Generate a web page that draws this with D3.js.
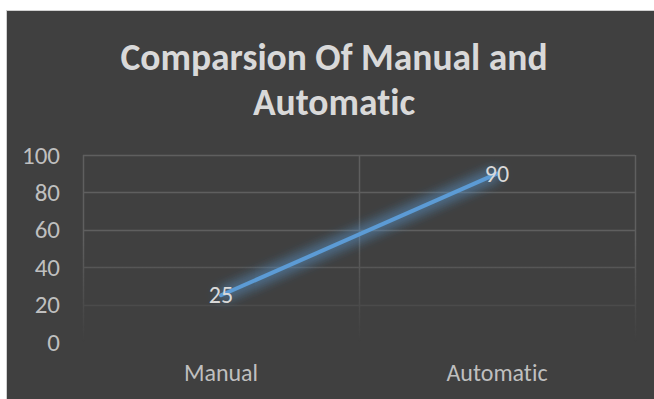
<!DOCTYPE html>
<html>
<head>
<meta charset="utf-8">
<script src="https://cdn.jsdelivr.net/npm/d3@7"></script>
<style>
  body { margin: 0; background: #fff; }
  svg text { font-family: Carlito, "Open Sans", "Liberation Sans", sans-serif; font-variant-ligatures: none; }
</style>
</head>
<body>
<div id="chart"></div>
<script>
// chart data
var categories = ["Manual", "Automatic"];
var values = [25, 90];
var yTicks = [0, 20, 40, 60, 80, 100];
var titleLines = ["Comparsion Of Manual and", "Automatic"];

var width = 654, height = 399;
var margin = {top: 155, right: 19, bottom: 57, left: 83};
var w = width - margin.left - margin.right;
var h = height - margin.top - margin.bottom;

var svg = d3.select("#chart").append("svg")
    .attr("width", width)
    .attr("height", height);

var defs = svg.append("defs");

// soft glow round the line
var glow = defs.append("filter").attr("id", "glow")
    .attr("x", "-20%").attr("y", "-50%").attr("width", "140%").attr("height", "200%");
glow.append("feGaussianBlur").attr("in", "SourceGraphic").attr("stdDeviation", 7).attr("result", "blur");
var merge = glow.append("feMerge");
merge.append("feMergeNode").attr("in", "blur");
merge.append("feMergeNode").attr("in", "blur");
merge.append("feMergeNode").attr("in", "SourceGraphic");

// grid fades out towards the bottom
var grad = defs.append("linearGradient").attr("id", "fade")
    .attr("gradientUnits", "userSpaceOnUse")
    .attr("x1", 0).attr("x2", 0).attr("y1", 0).attr("y2", h);
grad.append("stop").attr("offset", "0.45").attr("stop-color", "#fff").attr("stop-opacity", 1);
grad.append("stop").attr("offset", "1").attr("stop-color", "#fff").attr("stop-opacity", 0);
defs.append("mask").attr("id", "gridMask")
    .attr("maskUnits", "userSpaceOnUse")
    .attr("x", -10).attr("y", -10).attr("width", w + 20).attr("height", h + 20)
  .append("rect")
    .attr("x", -10).attr("y", -10).attr("width", w + 20).attr("height", h + 20)
    .attr("fill", "url(#fade)");

// dark panel
svg.append("rect")
    .attr("x", 6.5).attr("y", 10.5)
    .attr("width", width - 6).attr("height", height - 10)
    .attr("fill", "#404040")
    .attr("stroke", "#d0d0d0");

// title
svg.append("g")
    .selectAll("text")
    .data(titleLines)
    .enter().append("text")
    .attr("x", 334)
    .attr("y", function(d, i) { return 70 + i * 45; })
    .attr("text-anchor", "middle")
    .attr("font-size", 37.5)
    .attr("font-weight", "bold")
    .attr("fill", "#d9d9d9")
    .text(function(d) { return d; });

var g = svg.append("g")
    .attr("transform", "translate(" + margin.left + "," + margin.top + ")");

var x = d3.scaleBand().domain(categories).range([0, w]);
var y = d3.scaleLinear().domain([0, 100]).range([h, 0]);

// gridlines
var grid = g.append("g").attr("mask", "url(#gridMask)");
grid.selectAll(".hgrid")
    .data(yTicks.filter(function(d) { return d > 0; }))
    .enter().append("line")
    .attr("x1", 0).attr("x2", w)
    .attr("y1", function(d) { return Math.round(y(d)) + 0.5; })
    .attr("y2", function(d) { return Math.round(y(d)) + 0.5; })
    .attr("stroke", "#5f5f5f")
    .attr("stroke-width", 1.5);
grid.selectAll(".vgrid")
    .data([0].concat(categories.map(function(c) { return x(c) + x.bandwidth(); })))
    .enter().append("line")
    .attr("x1", function(d) { return Math.round(d) + 0.5; })
    .attr("x2", function(d) { return Math.round(d) + 0.5; })
    .attr("y1", 0).attr("y2", h)
    .attr("stroke", "#5f5f5f")
    .attr("stroke-width", 1.5);

// y axis
var yAxis = d3.axisLeft(y).tickValues(yTicks).tickSize(0).tickPadding(23);
g.append("g")
    .call(yAxis)
    .call(function(a) { a.select(".domain").remove(); })
    .selectAll("text")
    .attr("font-size", 25)
    .attr("fill", "#bfbfbf");

// x axis
var xAxis = d3.axisBottom(x).tickSize(0).tickPadding(22);
g.append("g")
    .attr("transform", "translate(0," + h + ")")
    .call(xAxis)
    .call(function(a) { a.select(".domain").remove(); })
    .selectAll("text")
    .attr("font-size", 24)
    .attr("fill", "#bfbfbf");

// line
var line = d3.line()
    .x(function(d, i) { return x(categories[i]) + x.bandwidth() / 2; })
    .y(function(d) { return y(d); });

g.append("path")
    .datum(values)
    .attr("d", line)
    .attr("fill", "none")
    .attr("stroke", "#5b9bd5")
    .attr("stroke-width", 4)
    .attr("stroke-linecap", "round")
    .attr("filter", "url(#glow)");

// value labels
g.selectAll(".label")
    .data(values)
    .enter().append("text")
    .attr("class", "label")
    .attr("x", function(d, i) { return x(categories[i]) + x.bandwidth() / 2; })
    .attr("y", function(d) { return y(d) + 8; })
    .attr("text-anchor", "middle")
    .attr("font-size", 24)
    .attr("fill", "#d9d9d9")
    .text(function(d) { return d; });
</script>
</body>
</html>
